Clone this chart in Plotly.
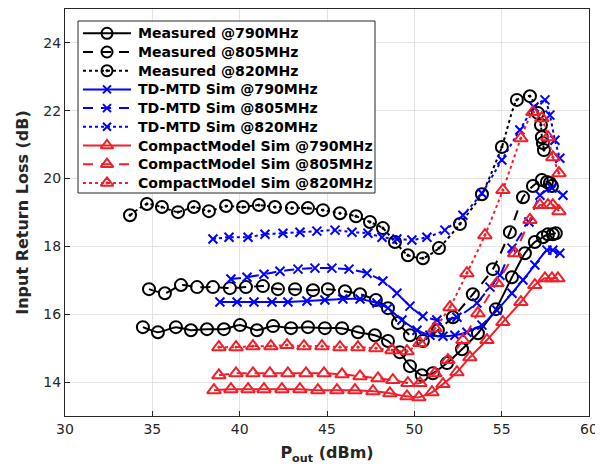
import plotly.graph_objects as go

# ---------------- data ----------------
meas790_x = [34.46, 35.32, 36.35, 37.21, 38.13, 39.10, 40.02, 40.99, 41.91, 42.94, 43.91, 44.88, 45.86, 46.77, 47.74, 48.49, 49.17, 49.75, 50.43, 51.06, 51.87, 52.73, 53.64, 54.67, 55.59, 56.33, 56.90, 57.36, 57.65, 57.93, 58.10]
meas790_y = [15.62, 15.47, 15.62, 15.53, 15.56, 15.56, 15.68, 15.53, 15.65, 15.59, 15.62, 15.59, 15.59, 15.47, 15.38, 15.21, 14.88, 14.47, 14.20, 14.26, 14.56, 14.97, 15.44, 16.15, 17.09, 17.80, 18.13, 18.27, 18.36, 18.36, 18.39]

meas805_x = [34.81, 35.72, 36.64, 37.56, 38.47, 39.44, 40.36, 41.33, 42.19, 43.17, 44.20, 45.05, 46.03, 46.89, 47.80, 48.49, 49.06, 49.75, 50.49, 51.35, 52.21, 53.35, 54.50, 55.47, 56.22, 56.79, 57.30, 57.59, 57.76, 57.88]
meas805_y = [16.74, 16.62, 16.86, 16.80, 16.80, 16.77, 16.80, 16.83, 16.74, 16.74, 16.71, 16.74, 16.68, 16.59, 16.42, 16.18, 15.74, 15.38, 15.21, 15.53, 15.91, 16.59, 17.33, 18.42, 19.45, 19.78, 19.96, 19.90, 19.87, 19.78]

meas820_x = [33.72, 34.69, 35.55, 36.47, 37.38, 38.24, 39.22, 40.19, 41.10, 42.02, 42.99, 43.91, 44.77, 45.74, 46.66, 47.46, 48.20, 48.89, 49.63, 50.49, 51.41, 52.61, 53.87, 55.01, 55.87, 56.62, 57.08, 57.25, 57.30, 57.36, 57.42]
meas820_y = [18.92, 19.25, 19.16, 19.01, 19.16, 19.04, 19.19, 19.16, 19.22, 19.16, 19.13, 19.13, 19.07, 18.98, 18.89, 18.72, 18.54, 18.13, 17.74, 17.65, 17.95, 18.66, 19.54, 20.93, 22.32, 22.43, 21.93, 21.58, 21.22, 21.05, 20.84]

td790_x = [38.87, 39.85, 40.82, 41.85, 42.76, 43.85, 44.88, 45.91, 46.89, 47.86, 48.49, 49.29, 50.15, 50.89, 51.64, 52.32, 53.01, 53.87, 54.73, 55.59, 56.22, 56.90, 57.59, 57.93, 58.33]
td790_y = [16.36, 16.36, 16.36, 16.36, 16.36, 16.39, 16.42, 16.45, 16.45, 16.33, 16.18, 15.83, 15.53, 15.38, 15.35, 15.38, 15.47, 15.68, 16.12, 16.62, 17.01, 17.45, 17.89, 17.89, 17.80]

td805_x = [39.50, 40.42, 41.39, 42.31, 43.34, 44.31, 45.28, 46.26, 47.29, 48.20, 49.00, 49.75, 50.49, 51.29, 52.44, 53.58, 54.33, 54.90, 55.59, 56.56, 57.19, 57.88, 58.51]
td805_y = [17.04, 17.09, 17.18, 17.27, 17.33, 17.36, 17.36, 17.33, 17.21, 16.98, 16.62, 16.24, 15.94, 15.83, 15.91, 16.33, 16.80, 17.15, 17.95, 18.72, 19.51, 19.72, 19.51]

td820_x = [38.47, 39.39, 40.48, 41.45, 42.48, 43.45, 44.42, 45.46, 46.43, 47.34, 48.15, 49.00, 49.86, 50.72, 51.75, 52.78, 53.87, 55.01, 56.04, 56.85, 57.48, 57.76, 58.05, 58.33]
td820_y = [18.22, 18.27, 18.27, 18.36, 18.39, 18.42, 18.45, 18.48, 18.42, 18.39, 18.27, 18.22, 18.19, 18.27, 18.48, 18.92, 19.57, 20.55, 21.43, 22.11, 22.32, 21.87, 21.13, 20.60]

cm790_x = [38.53, 39.50, 40.48, 41.39, 42.42, 43.45, 44.48, 45.57, 46.60, 47.63, 48.60, 49.58, 50.26, 51.01, 51.64, 52.44, 53.18, 54.16, 55.07, 56.10, 56.90, 57.48, 57.88, 58.22]
cm790_y = [13.76, 13.79, 13.79, 13.79, 13.79, 13.79, 13.76, 13.76, 13.76, 13.73, 13.67, 13.58, 13.55, 13.70, 13.94, 14.29, 14.73, 15.24, 15.77, 16.36, 16.86, 17.06, 17.06, 17.06]

cm805_x = [38.81, 39.79, 40.76, 41.73, 42.76, 43.80, 44.83, 45.86, 46.89, 47.92, 48.77, 49.63, 50.32, 51.18, 51.92, 52.78, 53.64, 54.73, 55.76, 56.62, 57.19, 57.65, 57.93, 58.28]
cm805_y = [14.20, 14.26, 14.26, 14.26, 14.26, 14.26, 14.26, 14.23, 14.17, 14.11, 14.06, 13.97, 13.97, 14.26, 14.65, 15.24, 16.03, 16.92, 17.80, 18.78, 19.22, 19.22, 19.22, 19.04]

cm820_x = [38.81, 39.79, 40.76, 41.79, 42.71, 43.68, 44.71, 45.74, 46.77, 47.80, 48.72, 49.58, 50.32, 51.18, 52.04, 53.01, 54.04, 55.07, 56.10, 56.79, 57.30, 57.65, 57.93, 58.28]
cm820_y = [15.03, 15.03, 15.06, 15.06, 15.09, 15.06, 15.06, 15.03, 15.03, 15.00, 14.94, 14.91, 15.15, 15.59, 16.21, 17.21, 18.33, 19.66, 21.19, 21.96, 21.78, 21.22, 20.63, 20.16]

series_names = [
    "Measured @790MHz", "Measured @805MHz", "Measured @820MHz",
    "TD-MTD Sim @790MHz", "TD-MTD Sim @805MHz", "TD-MTD Sim @820MHz",
    "CompactModel Sim @790MHz", "CompactModel Sim @805MHz", "CompactModel Sim @820MHz",
]

x_ticks = [30, 35, 40, 45, 50, 55, 60]
y_ticks = [14, 16, 18, 20, 22, 24]
X_RANGE = [30, 60]
Y_RANGE = [13, 25]

# ---------------- styles ----------------
BLACK = "#000000"
BLUE = "#0000FF"
RED = "#F0202A"
DASH = "10px,8px"

series_data = [
    (meas790_x, meas790_y), (meas805_x, meas805_y), (meas820_x, meas820_y),
    (td790_x, td790_y), (td805_x, td805_y), (td820_x, td820_y),
    (cm790_x, cm790_y), (cm805_x, cm805_y), (cm820_x, cm820_y),
]
series_style = [
    (BLACK, "solid", "circle-open", 12),
    (BLACK, DASH, "circle-open", 12),
    (BLACK, "dot", "circle-open-dot", 12),
    (BLUE, "solid", "x-thin-open", 9),
    (BLUE, DASH, "x-thin-open", 9),
    (BLUE, "dot", "x-thin-open", 9),
    (RED, "solid", "triangle-up-open", 12),
    (RED, DASH, "triangle-up-open", 12),
    (RED, "dot", "triangle-up-open-dot", 12),
]

fig = go.Figure()
for name, (xs, ys), (col, dash, sym, sz) in zip(series_names, series_data, series_style):
    fig.add_trace(go.Scatter(
        x=xs, y=ys, name=name, mode="lines+markers", showlegend=False,
        line=dict(color=col, width=2, dash=dash, shape="spline", smoothing=0.5),
        marker=dict(symbol=sym, size=sz, color=col, line=dict(color=col, width=2)),
    ))

# ---------------- legend box (laid out in page-pixel units) ----------------
# the plot area spans page x 65..589, page y 9..416
PX0, PX1, PY0, PY1 = 65, 589, 9, 416
LEG_LEFT, LEG_RIGHT, LEG_TOP, LEG_BOTTOM = 78, 375, 21, 193
ROW0, ROW_STEP = 33.3, 18.7
SAMPLE_X = [83, 107, 131]
TEXT_X = 136


def px2x(px):
    return X_RANGE[0] + (px - PX0) / (PX1 - PX0) * (X_RANGE[1] - X_RANGE[0])


def py2y(py):
    return Y_RANGE[1] - (py - PY0) / (PY1 - PY0) * (Y_RANGE[1] - Y_RANGE[0])


fig.add_shape(type="rect", xref="x", yref="y",
              x0=px2x(LEG_LEFT), x1=px2x(LEG_RIGHT), y0=py2y(LEG_TOP), y1=py2y(LEG_BOTTOM),
              fillcolor="white", line=dict(color="#262626", width=1), layer="between")

for i, (name, (col, dash, sym, sz)) in enumerate(zip(series_names, series_style)):
    ry = py2y(ROW0 + i * ROW_STEP)
    fig.add_trace(go.Scatter(
        x=[px2x(v) for v in SAMPLE_X], y=[ry] * 3, mode="lines+markers",
        showlegend=False, hoverinfo="skip",
        line=dict(color=col, width=2, dash=dash),
        marker=dict(symbol=sym, size=sz - 1, color=col, opacity=[0, 1, 0],
                    line=dict(color=col, width=2)),
    ))
    fig.add_annotation(xref="x", yref="y", x=px2x(TEXT_X), y=ry, text="<b>" + name + "</b>",
                       showarrow=False, xanchor="left", yanchor="middle",
                       font=dict(family="DejaVu Sans", size=14.1, color="#000000"))

axis_common = dict(
    showline=True, linecolor="#262626", linewidth=1, mirror=True,
    showgrid=True, gridcolor="#E3E3E3", gridwidth=1,
    ticks="inside", ticklen=5, tickcolor="#262626",
    tickfont=dict(family="DejaVu Sans", size=14, color="#262626"),
    zeroline=False,
)

# page body adds an 8px offset; figure is sized to compensate
fig.update_layout(
    width=595, height=460,
    margin=dict(l=57, r=14, t=1, b=52),
    paper_bgcolor="white", plot_bgcolor="white",
    font=dict(family="DejaVu Sans", color="#262626"),
    xaxis=dict(range=X_RANGE, tickvals=x_ticks,
               title=dict(text="<b>P<sub>out</sub> (dBm)</b>", font=dict(size=16, color="#262626"), standoff=11),
               **axis_common),
    yaxis=dict(range=Y_RANGE, tickvals=y_ticks,
               title=dict(text="<b>Input Return Loss (dB)</b>", font=dict(size=16, color="#262626"), standoff=10),
               **axis_common),
    showlegend=False,
)

fig.write_html("out.html")
